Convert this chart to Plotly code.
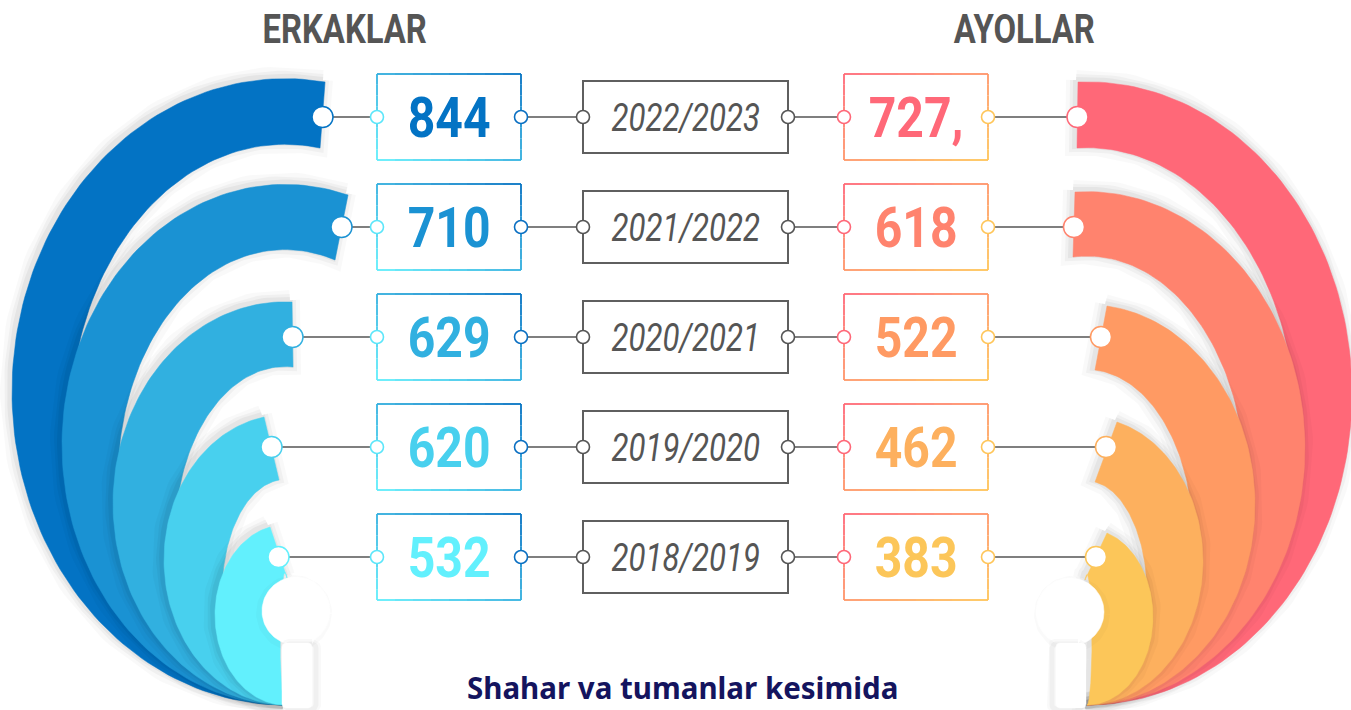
import json
import numpy as np
import plotly.graph_objects as go

# ---------------- data ----------------
years = ["2022/2023", "2021/2022", "2020/2021", "2019/2020", "2018/2019"]
men_values = [844, 710, 629, 620, 532]
women_values = [727, 618, 522, 462, 383]
women_labels = ["727,", "618", "522", "462", "383"]
header_left = "ERKAKLAR"
header_right = "AYOLLAR"
footer_text = "Shahar va tumanlar kesimida"

# ---------------- styles / geometry ----------------
W, H = 1351, 710
men_colors = ["#0373C4", "#1A92D3", "#31B0E0", "#48D0EE", "#62F0FD"]
women_colors = ["#FF6878", "#FF836E", "#FF9A63", "#FDB05E", "#FCC659"]
NUM_FONT = "Roboto, sans-serif"
GRAY_LINE = "#7f7f7f"
NUM_SCALE, YEAR_SCALE, HEAD_SCALE = 0.86, 0.80, 0.80

row_y0, row_step = 117, 110
box_h = 86
left_box_x = (377, 521)
year_box_x = (583, 788)
year_box_h = 72
right_box_x = (844, 988)

# fan geometry (a, top_x, top_y) for outer / inner boundary of each band
left_B = (285, 705)
left_outer = [(273, 325, 82), (223, 348, 195), (172, 292, 302), (121, 264, 417), (70, 270, 527)]
left_inner = [(215, 320, 148), (167, 335, 260), (110, 293, 367), (63, 279, 480), (5, 287, 578)]
right_B = (1087, 705)
right_outer = [(265, 1078, 82), (218, 1075, 192), (168, 1107, 306), (116, 1117, 422), (66, 1107, 533)]
right_inner = [(209, 1077, 148), (158, 1073, 257), (106, 1095, 370), (60, 1095, 482), (5, 1085, 580)]
left_hole = (296, 611, 34)
right_hole = (1070, 612, 34)
left_stem = (282, 643, 312, 708)
right_stem = (1056, 643, 1086, 708)

fig = go.Figure()


def boundary(B, a, tx, ty, s, n=120):
    Bx, By = B
    c = np.clip(s * (tx - Bx) / a, -1, 1)
    th0 = np.arccos(c)
    b = (By - ty) / (1 + np.sin(th0))
    th = np.linspace(th0, 1.5 * np.pi, n)
    x = Bx + s * a * np.cos(th)
    y = By - b - b * np.sin(th)
    return x, y


def add_shadow(x, y, dx=-2, dy=-2, layers=((20, 0.025), (12, 0.035), (6, 0.045))):
    for w, al in layers:
        fig.add_trace(go.Scatter(x=np.asarray(x, dtype=float) + dx, y=np.asarray(y, dtype=float) + dy,
                                 mode="lines", line=dict(color=f"rgba(0,0,0,{al})", width=w),
                                 hoverinfo="skip", showlegend=False))


def add_fan(B, outers, inners, colors, s):
    for (ao, txo, tyo), (ai, txi, tyi), col in zip(outers, inners, colors):
        xo, yo = boundary(B, ao, txo, tyo, s)
        xi, yi = boundary(B, ai, txi, tyi, s)
        x = np.concatenate([xo, xi[::-1], xo[:1]])
        y = np.concatenate([yo, yi[::-1], yo[:1]])
        add_shadow(x, y)
        fig.add_trace(go.Scatter(x=x, y=y, mode="lines", fill="toself", fillcolor=col,
                                 line=dict(color=col, width=0.5), hoverinfo="skip", showlegend=False))


def add_hole(hole, stem, sx):
    cx, cy, r = hole
    t = np.linspace(0, 2 * np.pi, 100)
    x = cx + r * np.cos(t)
    y = cy + r * np.sin(t)
    add_shadow(x, y, -2 * sx, 2, layers=((8, 0.02),))
    fig.add_trace(go.Scatter(x=x, y=y, mode="lines", fill="toself", fillcolor="white",
                             line=dict(color="white", width=0.5), hoverinfo="skip", showlegend=False))
    x0, y0, x1, y1 = stem
    rr = 4
    tt = np.linspace(0, np.pi / 2, 8)
    xs, ys = [], []
    for (ccx, ccy, st) in [(x1 - rr, y0 + rr, -np.pi / 2), (x1 - rr, y1 - rr, 0),
                           (x0 + rr, y1 - rr, np.pi / 2), (x0 + rr, y0 + rr, np.pi)]:
        xs += list(ccx + rr * np.cos(tt + st))
        ys += list(ccy + rr * np.sin(tt + st))
    xs.append(xs[0]); ys.append(ys[0])
    add_shadow(xs, ys, 4 * sx, 1, layers=((10, 0.025), (5, 0.035)))
    fig.add_trace(go.Scatter(x=xs, y=ys, mode="lines", fill="toself", fillcolor="white",
                             line=dict(color="white", width=0.5), hoverinfo="skip", showlegend=False))


add_fan(left_B, left_outer, left_inner, men_colors, 1)
add_fan(right_B, right_outer, right_inner, women_colors, -1)
add_hole(left_hole, left_stem, 1)
add_hole(right_hole, right_stem, -1)

shapes = []


def hex2rgb(h):
    h = h.lstrip("#")
    return np.array([int(h[i:i + 2], 16) for i in (0, 2, 4)], dtype=float)


def grad_rect(x0, y0, x1, y1, c0, c1, mode, nseg=8, width=1.8):
    a, b = hex2rgb(c0), hex2rgb(c1)
    edges = [((x0, y0), (x1, y0)), ((x1, y0), (x1, y1)), ((x1, y1), (x0, y1)), ((x0, y1), (x0, y0))]
    for (px0, py0), (px1, py1) in edges:
        for k in range(nseg):
            sx0 = px0 + (px1 - px0) * k / nseg
            sy0 = py0 + (py1 - py0) * k / nseg
            sx1 = px0 + (px1 - px0) * (k + 1) / nseg
            sy1 = py0 + (py1 - py0) * (k + 1) / nseg
            mx, my = (sx0 + sx1) / 2, (sy0 + sy1) / 2
            u = (mx - x0) / (x1 - x0)
            v = (my - y0) / (y1 - y0)
            t = (u + (1 - v)) / 2 if mode == "bl_tr" else (u + v) / 2
            c = a + (b - a) * t
            col = f"rgb({int(c[0])},{int(c[1])},{int(c[2])})"
            shapes.append(dict(type="line", xref="x", yref="y", x0=sx0, y0=sy0, x1=sx1, y1=sy1,
                               line=dict(color=col, width=width), layer="below"))


annotations = []
scales = {}
line_x, line_y = [], []
big_markers = {"x": [], "y": [], "c": []}
small_markers = {"x": [], "y": [], "c": []}

for i, (yr, mv, wl) in enumerate(zip(years, men_values, women_labels)):
    yc = row_y0 + i * row_step
    lx = (left_outer[i][1] + left_inner[i][1]) / 2
    rx = (right_outer[i][1] + right_inner[i][1]) / 2
    for xa, xb in [(lx, left_box_x[0]), (left_box_x[1], year_box_x[0]),
                   (year_box_x[1], right_box_x[0]), (right_box_x[1], rx)]:
        line_x += [xa, xb, None]
        line_y += [yc, yc, None]
    big_markers["x"] += [lx, rx]
    big_markers["y"] += [yc, yc]
    big_markers["c"] += [men_colors[i], women_colors[i]]
    small_markers["x"] += [left_box_x[0], left_box_x[1], year_box_x[0], year_box_x[1], right_box_x[0], right_box_x[1]]
    small_markers["y"] += [yc] * 6
    small_markers["c"] += ["#5CE6FA", "#0A6FC2", "#555555", "#555555", "#FF6878", "#FFC65A"]
    grad_rect(left_box_x[0], yc - box_h / 2, left_box_x[1], yc + box_h / 2, "#62F0FD", "#0370C2", "bl_tr")
    grad_rect(right_box_x[0], yc - box_h / 2, right_box_x[1], yc + box_h / 2, "#FF6878", "#FFC65A", "tl_br")
    shapes.append(dict(type="rect", xref="x", yref="y", x0=year_box_x[0], x1=year_box_x[1],
                       y0=yc - year_box_h / 2, y1=yc + year_box_h / 2,
                       line=dict(color="#5f5f5f", width=2), fillcolor="white", layer="below"))
    annotations.append(dict(x=sum(left_box_x) / 2, y=yc + 1, xref="x", yref="y", text=str(mv), showarrow=False,
                            font=dict(family=NUM_FONT, size=56, color=men_colors[i], weight="bold"),
                            xanchor="center", yanchor="middle"))
    annotations.append(dict(x=sum(right_box_x) / 2, y=yc + 1, xref="x", yref="y", text=wl, showarrow=False,
                            font=dict(family=NUM_FONT, size=56, color=women_colors[i], weight="bold"),
                            xanchor="center", yanchor="middle"))
    annotations.append(dict(x=sum(year_box_x) / 2, y=yc + 1, xref="x", yref="y", text=yr, showarrow=False,
                            font=dict(family=NUM_FONT, size=39, color="#555555", style="italic"),
                            xanchor="center", yanchor="middle"))
    scales[str(mv)] = NUM_SCALE
    scales[wl] = NUM_SCALE
    scales[yr] = YEAR_SCALE

fig.add_trace(go.Scatter(x=line_x, y=line_y, mode="lines", line=dict(color=GRAY_LINE, width=2.2),
                         hoverinfo="skip", showlegend=False))
fig.add_trace(go.Scatter(x=big_markers["x"], y=big_markers["y"], mode="markers",
                         marker=dict(size=21, color="white", line=dict(color=big_markers["c"], width=1.5)),
                         hoverinfo="skip", showlegend=False))
fig.add_trace(go.Scatter(x=small_markers["x"], y=small_markers["y"], mode="markers",
                         marker=dict(size=13, color="white", line=dict(color=small_markers["c"], width=1.6)),
                         hoverinfo="skip", showlegend=False))

annotations.append(dict(x=344, y=29, xref="x", yref="y", text=header_left, showarrow=False,
                        font=dict(family=NUM_FONT, size=41, color="#555555", weight="bold"),
                        xanchor="center", yanchor="middle"))
annotations.append(dict(x=1024, y=29, xref="x", yref="y", text=header_right, showarrow=False,
                        font=dict(family=NUM_FONT, size=41, color="#555555", weight="bold"),
                        xanchor="center", yanchor="middle"))
scales[header_left] = HEAD_SCALE
scales[header_right] = HEAD_SCALE
annotations.append(dict(x=682, y=710, xref="x", yref="y", text=footer_text, showarrow=False,
                        font=dict(family="Noto Sans, sans-serif", size=29.5, color="#14145E", weight="bold"),
                        xanchor="center", yanchor="bottom"))

fig.update_layout(
    width=W, height=H, margin=dict(l=0, r=0, t=0, b=0),
    paper_bgcolor="white", plot_bgcolor="white",
    xaxis=dict(range=[0, W], visible=False, fixedrange=True),
    yaxis=dict(range=[H, 0], visible=False, fixedrange=True),
    shapes=shapes, annotations=annotations, showlegend=False,
)

post = """
document.body.style.margin = '0';
document.body.style.overflow = 'hidden';
var SCALES = %s;
document.querySelectorAll('text.annotation-text').forEach(function(t){
  var s = SCALES[t.textContent];
  if (!s) return;
  var bb = t.getBBox();
  var cx = bb.x + bb.width / 2;
  t.setAttribute('transform', 'translate(' + cx + ',0) scale(' + s + ',1) translate(' + (-cx) + ',0)');
});
""" % json.dumps(scales)

fig.write_html("out.html", post_script=post, config={"displayModeBar": False})
